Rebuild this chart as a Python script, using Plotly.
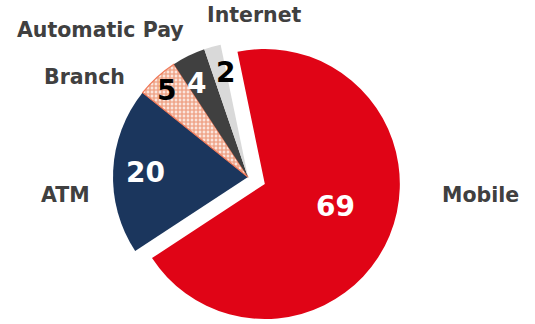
import math
import plotly.graph_objects as go

# Share of transactions by channel
channels = ["Mobile", "ATM", "Branch", "Automatic Pay", "Internet"]
shares = [69, 20, 5, 4, 2]

slice_colors = ["#E00416", "#1B365D", "#FFFFFF", "#404040", "#D9D9D9"]
value_colors = ["white", "white", "black", "white", "black"]

W, H = 535, 324
CX, CY, R = 248, 177, 135          # pie centre and radius in pixels
ROTATION = -11.7                   # start angle of the first slice (deg, clockwise from 12)
PULL = 0.135                       # exploded Mobile slice, fraction of radius

total = sum(shares)
mids = []
a = ROTATION
for v in shares:
    mids.append(a + 360 * v / total / 2)
    a += 360 * v / total

# offset of the exploded slice along its mid-angle
th = math.radians(mids[0])
PX, PY = CX + PULL * R * math.sin(th), CY - PULL * R * math.cos(th)


def domain(cx, cy, r):
    return dict(x=[(cx - r) / W, (cx + r) / W], y=[(H - (cy + r)) / H, (H - (cy - r)) / H])


pattern = dict(
    shape=["", "", ".", "", ""],
    fgcolor="#E0501A",
    bgcolor="#FFFFFF",
    size=4,
    solidity=0.75,
    fillmode="overlay",
)

base = dict(
    labels=channels,
    values=shares,
    sort=False,
    direction="clockwise",
    rotation=ROTATION,
    textinfo="none",
    hoverinfo="label+value",
    showlegend=False,
)

fig = go.Figure()
# the smaller channels, Mobile left empty
fig.add_trace(go.Pie(
    **base,
    domain=domain(CX, CY, R),
    marker=dict(
        colors=["rgba(0,0,0,0)"] + slice_colors[1:],
        pattern=pattern,
        line=dict(color="#F07A5A", width=[0, 0, 1.2, 0, 0]),
    ),
))
# the exploded Mobile slice
fig.add_trace(go.Pie(
    **base,
    domain=domain(PX, PY, R),
    marker=dict(
        colors=[slice_colors[0]] + ["rgba(0,0,0,0)"] * 4,
        line=dict(width=0),
    ),
))

annotations = []
# value labels inside the slices: (radial fraction, angle nudge in degrees)
value_pos = [(0.55, -5), (0.76, 0), (0.88, -1), (0.79, -2.5), (0.79, 3)]
for i, v in enumerate(shares):
    frac, nudge = value_pos[i]
    t = math.radians(mids[i] + nudge)
    ox, oy = (PX, PY) if i == 0 else (CX, CY)
    x = ox + frac * R * math.sin(t)
    y = oy - frac * R * math.cos(t)
    annotations.append(dict(
        x=x / W, y=1 - y / H, xref="paper", yref="paper",
        text=str(v), showarrow=False, xanchor="center", yanchor="middle",
        font=dict(family="DejaVu Sans", size=28, color=value_colors[i], weight="bold"),
    ))

# category labels around the pie (pixel anchor points)
label_pos = {
    "Mobile": (480, 195),
    "ATM": (65, 195),
    "Branch": (84, 77),
    "Automatic Pay": (100, 30),
    "Internet": (254, 15),
}
for name in channels:
    x, y = label_pos[name]
    annotations.append(dict(
        x=x / W, y=1 - y / H, xref="paper", yref="paper",
        text=name, showarrow=False, xanchor="center", yanchor="middle",
        font=dict(family="DejaVu Sans", size=20.5, color="#404040", weight="bold"),
    ))

fig.update_layout(
    width=W, height=H,
    margin=dict(l=0, r=0, t=0, b=0),
    paper_bgcolor="white",
    plot_bgcolor="white",
    annotations=annotations,
)

fig.write_html("out.html")
